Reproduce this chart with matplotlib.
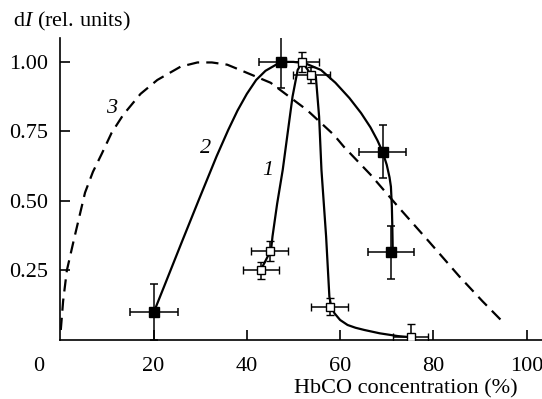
import numpy as np
import matplotlib
matplotlib.use('Agg')
import matplotlib.pyplot as plt

plt.rcParams['font.family'] = 'Liberation Serif'
plt.rcParams['mathtext.fontset'] = 'custom'
plt.rcParams['mathtext.rm'] = 'Liberation Serif'
plt.rcParams['mathtext.it'] = 'Liberation Serif:italic'

# measured points, curve 1 (open squares)
x1 = [43.0, 44.9, 51.9, 53.8, 57.8, 75.1]
y1 = [0.25, 0.32, 1.00, 0.953, 0.12, 0.01]
x1_err = [3.9, 3.95, 3.5, 4.0, 4.0, 3.7]
y1_err = [0.032, 0.035, 0.035, 0.03, 0.03, 0.048]

# measured points, curve 2 (filled squares)
x2 = [20.1, 47.3, 69.1, 70.9]
y2 = [0.10, 1.00, 0.677, 0.315]
x2_err = [5.2, 4.7, 5.0, 4.95]
y2_err = [0.10, 0.095, 0.095, 0.096]

# curve 1 trace
c1_x = [43.0, 45.2, 45.5, 46.5, 47.7, 48.8, 49.8, 50.9, 51.9, 53.8, 54.8, 55.5, 56.0,
        57.0, 57.7, 58.1, 58.8, 60.0, 61.6, 63.3, 65.2, 68.5, 72.4, 75.1]
c1_y = [0.252, 0.324, 0.372, 0.49, 0.612, 0.75, 0.875, 0.971, 1.0, 0.953, 0.947,
        0.803, 0.612, 0.372, 0.156, 0.12, 0.096, 0.072, 0.054, 0.044, 0.036, 0.024, 0.014, 0.01]

# curve 2 trace
c2_x = [20.1, 22.2, 26.0, 29.7, 33.5, 36.0, 38.0, 40.0, 42.0, 44.0, 47.3, 50.0, 52.5, 55.9,
        59.0, 62.0, 64.5, 66.5, 68.0, 69.1, 70.0, 70.6, 70.9, 71.1, 71.2, 71.3]
c2_y = [0.102, 0.19, 0.35, 0.504, 0.66, 0.755, 0.825, 0.885, 0.935, 0.968, 1.0, 1.0, 0.995,
        0.971, 0.925, 0.87, 0.816, 0.765, 0.718, 0.677, 0.63, 0.585, 0.551, 0.48, 0.408, 0.312]

# curve 3 trace (dashed)
c3_x = [0.1, 0.6, 1.4, 2.9, 5.3, 7.0, 8.9, 11.0, 13.5, 17.2, 20.8, 25.8, 29.4, 32.5, 35.8,
        38.7, 45.1, 52.9, 58.7, 60.8, 66.5, 72.4, 79.0, 85.6, 90.5, 95.3]
c3_y = [0.036, 0.14, 0.25, 0.36, 0.53, 0.605, 0.67, 0.745, 0.81, 0.885, 0.935, 0.983,
        0.998, 0.998, 0.99, 0.97, 0.925, 0.827, 0.737, 0.695, 0.595, 0.48, 0.355, 0.228,
        0.14, 0.058]

fig = plt.figure(figsize=(5.42, 3.99), dpi=100)
ax = fig.add_axes([0.1113, 0.1479, 0.8887, 0.7569])

ax.plot(c3_x, c3_y, '--', color='black', lw=1.6, dashes=(5.5, 3.2))
ax.plot(c2_x, c2_y, '-', color='black', lw=1.6)
ax.plot(c1_x, c1_y, '-', color='black', lw=1.6)

ax.errorbar(x2, y2, xerr=x2_err, yerr=y2_err, fmt='s', color='black', ms=6.5,
            mfc='black', mec='black', elinewidth=1.1, capsize=3.2, capthick=1.1, zorder=5)
ax.errorbar(x1, y1, xerr=x1_err, yerr=y1_err, fmt='s', color='black', ms=5.5,
            mfc='white', mec='black', mew=1.0, elinewidth=1.1, capsize=3.2, capthick=1.1, zorder=6)

ax.set_xlim(0, 103.3)
ax.set_ylim(0, 1.086)
ax.set_xticks([20, 40, 60, 80, 100])
ax.set_yticks([0.25, 0.50, 0.75, 1.00])
ax.set_yticklabels(['0.25', '0.50', '0.75', '1.00'])

for s in ['top', 'right']:
    ax.spines[s].set_visible(False)
for s in ['left', 'bottom']:
    ax.spines[s].set_linewidth(1.2)

fs = 16
ax.tick_params(direction='in', length=7, width=1.2, labelsize=fs)
ax.tick_params(axis='x', pad=12)
ax.tick_params(axis='y', pad=9)

ax.text(-0.045, -0.055, '0', transform=ax.transAxes, fontsize=fs,
        ha='center', va='top')

ax.set_xlabel('HbCO concentration (%)', fontsize=fs)
ax.xaxis.set_label_coords(0.718, -0.13)
fig.text(0.024, 0.945, 'd$I$ (rel. units)', fontsize=fs, ha='left', va='center')

ax.text(44.5, 0.61, '1', fontsize=fs, style='italic', ha='center', va='center')
ax.text(31.2, 0.69, '2', fontsize=fs, style='italic', ha='center', va='center')
ax.text(11.1, 0.833, '3', fontsize=fs, style='italic', ha='center', va='center')

plt.savefig('out.png', dpi=100)
